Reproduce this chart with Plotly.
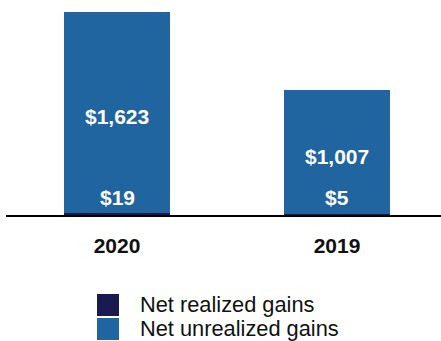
import plotly.graph_objects as go

# Realized vs. unrealized gains by year ($ in millions)
years = ["2020", "2019"]
realized = [19, 5]
unrealized = [1623, 1007]
series_names = ["Net realized gains", "Net unrealized gains"]
series_colors = ["#1b1a50", "#2064a0"]

W, H = 441, 341
M_L, M_R, M_T, M_B = 6, 0, 0, 126
PLOT_W = W - M_L - M_R
PLOT_H = H - M_T - M_B
FONT = "Liberation Sans, Arial, sans-serif"

fig = go.Figure()
for name, vals, color in zip(series_names, [realized, unrealized], series_colors):
    fig.add_trace(go.Bar(
        x=years, y=vals, name=name, marker=dict(color=color, line=dict(width=0)),
        width=0.48, showlegend=False, hoverinfo="skip",
    ))

def money(v):
    return "${:,}".format(v)

label_font = dict(family=FONT, size=21, color="white", weight="bold")
annotations = []
for i, (r, u) in enumerate(zip(realized, unrealized)):
    annotations.append(dict(x=i, y=r + u / 2, text=money(u), showarrow=False,
                            yshift=-4.5, font=label_font, xref="x", yref="y"))
    annotations.append(dict(x=i, y=0, text=money(r), showarrow=False, yshift=18,
                            font=label_font, xref="x", yref="y"))

# Legend drawn as swatches plus text below the axis
def px_x(p):
    return (p - M_L) / PLOT_W

def px_y(p):
    return (M_T + PLOT_H - p) / PLOT_H

shapes = []
sw_x0, sw_x1 = 97, 119
for i, (name, color) in enumerate(zip(series_names, series_colors)):
    top = 294 + i * 24
    shapes.append(dict(type="rect", xref="paper", yref="paper",
                       x0=px_x(sw_x0), x1=px_x(sw_x1), y0=px_y(top), y1=px_y(top + 22),
                       fillcolor=color, line=dict(width=0)))
    annotations.append(dict(xref="paper", yref="paper", x=px_x(138), y=px_y(top + 10),
                            xanchor="left", yanchor="middle", text=name, showarrow=False,
                            font=dict(family=FONT, size=21.8, color="#111111")))

ymax = (realized[0] + unrealized[0]) * PLOT_H / (PLOT_H - 12)

fig.update_layout(
    barmode="stack",
    width=W, height=H,
    margin=dict(l=M_L, r=M_R, t=M_T, b=M_B),
    paper_bgcolor="white", plot_bgcolor="white",
    xaxis=dict(type="category", range=[-111 / 220, 1 + 104 / 220], showline=True,
               linecolor="black", linewidth=2, showgrid=False, ticks="",
               ticklabelstandoff=11,
               tickfont=dict(family=FONT, size=21, color="#111111", weight="bold")),
    yaxis=dict(range=[0, ymax], visible=False, showgrid=False),
    annotations=annotations,
    shapes=shapes,
)

fig.write_html("out.html")
